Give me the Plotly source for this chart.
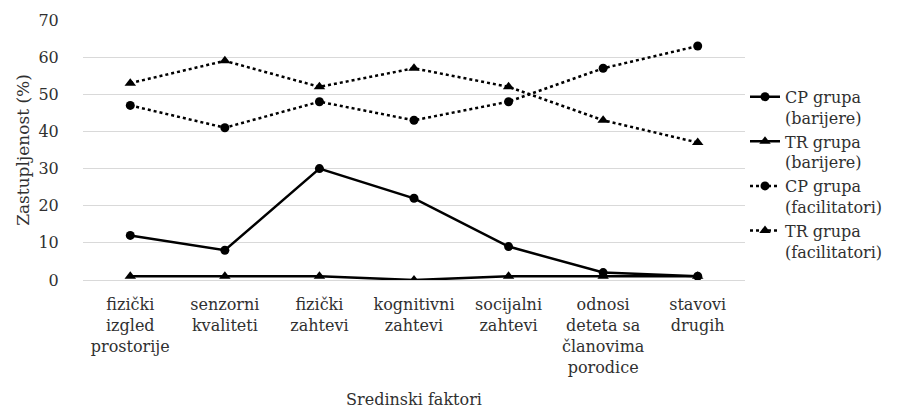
import plotly.graph_objects as go

categories = [
    "fizički<br>izgled<br>prostorije",
    "senzorni<br>kvaliteti",
    "fizički<br>zahtevi",
    "kognitivni<br>zahtevi",
    "socijalni<br>zahtevi",
    "odnosi<br>deteta sa<br>članovima<br>porodice",
    "stavovi<br>drugih",
]
cp_barijere = [12, 8, 30, 22, 9, 2, 1]
tr_barijere = [1, 1, 1, 0, 1, 1, 1]
cp_facilitatori = [47, 41, 48, 43, 48, 57, 63]
tr_facilitatori = [53, 59, 52, 57, 52, 43, 37]

series = [
    ("CP grupa<br>(barijere)", cp_barijere, "solid", "circle", 9),
    ("TR grupa<br>(barijere)", tr_barijere, "solid", "triangle-up", 10),
    ("CP grupa<br>(facilitatori)", cp_facilitatori, "dot", "circle", 9),
    ("TR grupa<br>(facilitatori)", tr_facilitatori, "dot", "triangle-up", 10),
]

fig = go.Figure()
for name, vals, dash, sym, size in series:
    fig.add_trace(go.Scatter(
        x=list(range(len(categories))), y=vals, name=name, mode="lines+markers",
        line=dict(color="black", width=2.5, dash=dash),
        marker=dict(symbol=sym, size=size, color="black"),
    ))

FAM = "DejaVu Serif"
txt = "#303030"
f16 = dict(family=FAM, size=16, color=txt)
f17 = dict(family=FAM, size=17, color=txt)
fig.update_layout(
    width=905, height=413,
    margin=dict(l=75, r=168, t=12, b=141),
    paper_bgcolor="white", plot_bgcolor="white",
    font=f16,
    showlegend=True,
    legend=dict(x=1.0, xanchor="left", y=0.77, yanchor="top", valign="top",
                font=f16, tracegroupgap=0),
    xaxis=dict(
        tickmode="array", tickvals=list(range(len(categories))), ticktext=categories,
        range=[-0.5, len(categories) - 0.5], showgrid=False, zeroline=False,
        showline=False, ticks="outside", ticklen=10, tickcolor="rgba(0,0,0,0)",
        tickfont=f16, automargin=False,
        title=dict(text="Sredinski faktori", font=f16, standoff=18),
    ),
    yaxis=dict(
        range=[0, 70], dtick=10, showgrid=True, gridcolor="#d9d9d9", gridwidth=1,
        zeroline=True, zerolinecolor="#d9d9d9", zerolinewidth=1, showline=False,
        ticks="outside", ticklen=20, tickcolor="rgba(0,0,0,0)", tickfont=f16,
        automargin=False,
        title=dict(text="Zastupljenost (%)", font=f17, standoff=4),
    ),
)
fig.write_html("out.html")
